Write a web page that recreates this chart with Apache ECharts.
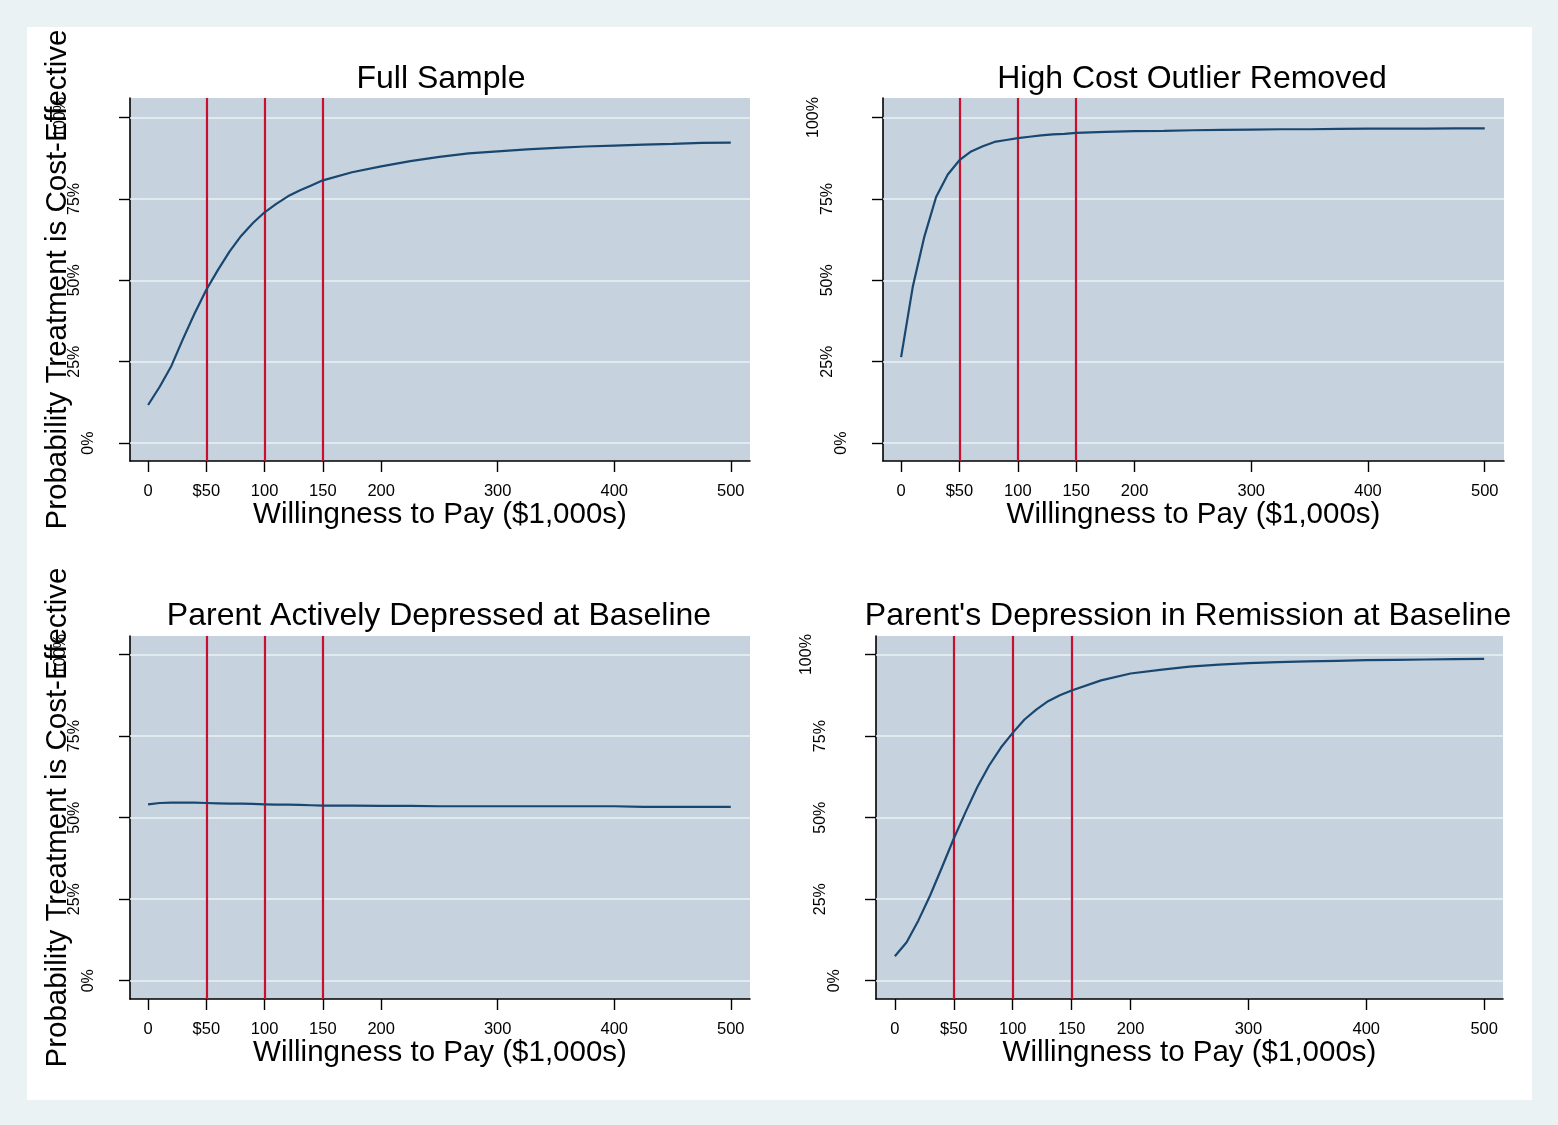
<!DOCTYPE html>
<html>
<head>
<meta charset="utf-8">
<title>Cost-effectiveness acceptability curves</title>
<script src="https://cdn.jsdelivr.net/npm/echarts@6/dist/echarts.min.js"></script>
<style>
  html, body { margin: 0; padding: 0; background: #eaf2f3; }
  #chart { width: 1558px; height: 1125px; }
</style>
</head>
<body>
<div id="chart"></div>
<script>
// willingness to pay ($1,000s)
let wtp = [0, 10, 20, 30, 40, 50, 60, 70, 80, 90, 100, 110, 120, 130, 140, 150, 175, 200, 225, 250, 275, 300, 325, 350, 375, 400, 425, 450, 475, 500];

// probability treatment is cost-effective (%)
let fullSample = [11.7, 17.3, 23.7, 32.0, 39.9, 47.1, 53.2, 58.9, 63.7, 67.6, 70.9, 73.5, 75.8, 77.6, 79.1, 80.7, 83.2, 85.0, 86.6, 87.9, 89.0, 89.6, 90.2, 90.7, 91.1, 91.4, 91.7, 91.9, 92.2, 92.3];
let outlierRemoved = [26.4, 48.0, 63.5, 75.6, 82.5, 86.9, 89.6, 91.2, 92.5, 93.1, 93.7, 94.1, 94.5, 94.8, 95.0, 95.3, 95.6, 95.8, 95.9, 96.1, 96.2, 96.3, 96.4, 96.4, 96.5, 96.6, 96.6, 96.6, 96.7, 96.7];
let activelyDepressed = [54.1, 54.5, 54.6, 54.6, 54.6, 54.5, 54.4, 54.3, 54.3, 54.2, 54.1, 54.0, 54.0, 53.9, 53.8, 53.7, 53.7, 53.6, 53.6, 53.5, 53.5, 53.5, 53.5, 53.5, 53.5, 53.5, 53.3, 53.3, 53.3, 53.3];
let inRemission = [7.5, 11.8, 18.5, 26.2, 34.8, 43.6, 51.7, 59.4, 66.0, 71.5, 76.0, 80.1, 83.1, 85.7, 87.5, 89.0, 92.1, 94.2, 95.3, 96.3, 96.9, 97.4, 97.7, 97.9, 98.1, 98.3, 98.4, 98.5, 98.6, 98.7];

let panelTitles = ["Full Sample", "High Cost Outlier Removed", "Parent Actively Depressed at Baseline", "Parent's Depression in Remission at Baseline"];
let xTickValues = [0, 50, 100, 150, 200, 300, 400, 500];
let xTickLabels = ["0", "$50", "100", "150", "200", "300", "400", "500"];
let yTickValues = [0, 25, 50, 75, 100];
let yTickLabels = ["0%", "25%", "50%", "75%", "100%"];
let thresholds = [50, 100, 150];

let xTitle = "Willingness to Pay ($1,000s)";
let yTitle = "Probability Treatment is Cost-Effective";

let font = "'Liberation Sans', Arial, Helvetica, sans-serif";
let curves = [fullSample, outlierRemoved, activelyDepressed, inRemission];

let grids = [
  { left: 130, top: 98, width: 620, height: 363 },
  { left: 883, top: 98, width: 621, height: 363 },
  { left: 130, top: 636, width: 620, height: 363 },
  { left: 876, top: 636, width: 627, height: 363 }
];
let xRanges = [[-15.5, 516.5], [-15.5, 516.5], [-15.5, 516.5], [-16, 516]];
let yRanges = [[-5.5, 106], [-5.5, 106], [-5.6, 105.7], [-5.6, 105.7]];
let titlePos = [[441, 79], [1192, 79], [439, 616], [1188, 616]];

// stata pushes the longer rotated labels further out
let yRich = {};
let yPads = [0, 14, 14, 14, 28];
for (let i = 0; i < yPads.length; i++) {
  yRich["p" + i] = { fontSize: 16, fontFamily: font, color: "#000", padding: [0, 0, yPads[i], 0] };
}

let option = {
  animation: false,
  backgroundColor: "#eaf2f3",
  textStyle: { fontFamily: font },
  grid: [],
  xAxis: [],
  yAxis: [],
  series: [],
  graphic: [
    { type: "rect", shape: { x: 27, y: 27, width: 1505, height: 1073 }, style: { fill: "#ffffff" }, z: -10, silent: true }
  ]
};

for (let i = 0; i < 4; i++) {
  let g = grids[i];
  option.grid.push({
    left: g.left, top: g.top, width: g.width, height: g.height,
    show: true, backgroundColor: "#c6d3df", borderWidth: 0
  });

  option.xAxis.push({
    type: "value", gridIndex: i,
    min: xRanges[i][0], max: xRanges[i][1],
    name: xTitle, nameLocation: "middle", nameGap: 39, nameMoveOverlap: false,
    nameTextStyle: { fontSize: 29.5, color: "#000", fontFamily: font },
    axisLine: { onZero: false, lineStyle: { color: "#000", width: 1.6 } },
    axisTick: { customValues: xTickValues, length: 11, lineStyle: { color: "#000", width: 1.4 } },
    axisLabel: {
      customValues: xTickValues, margin: 22, fontSize: 16.5, color: "#000", fontFamily: font,
      formatter: function (v) { return xTickLabels[xTickValues.indexOf(v)]; }
    },
    splitLine: { show: false }
  });

  let yAxis = {
    type: "value", gridIndex: i,
    min: yRanges[i][0], max: yRanges[i][1],
    axisLine: { onZero: false, lineStyle: { color: "#000", width: 1.6 } },
    axisTick: { customValues: yTickValues, length: 11, lineStyle: { color: "#000", width: 1.4 } },
    axisLabel: {
      customValues: yTickValues, rotate: 90, margin: 33,
      formatter: function (v) {
        let k = yTickValues.indexOf(v);
        return "{p" + k + "|" + yTickLabels[k] + "}";
      },
      rich: yRich
    },
    splitLine: { show: false }
  };
  if (i == 0 || i == 2) {
    // the title sits over the tick labels in the original
    yAxis.name = yTitle;
    yAxis.nameLocation = "middle";
    yAxis.nameRotate = 90;
    yAxis.nameGap = 57;
    yAxis.nameMoveOverlap = false;
    yAxis.nameTextStyle = { fontSize: 29.5, color: "#000", fontFamily: font };
  }
  option.yAxis.push(yAxis);

  // horizontal grid lines
  option.series.push({
    type: "line", xAxisIndex: i, yAxisIndex: i, data: [], z: 1, silent: true,
    markLine: {
      silent: true, symbol: "none", label: { show: false },
      lineStyle: { color: "#eaf2f3", width: 1.6, type: "solid" },
      emphasis: { disabled: true },
      data: yTickValues.map(function (v) { return { yAxis: v }; })
    }
  });

  // $50k / $100k / $150k thresholds
  option.series.push({
    type: "line", xAxisIndex: i, yAxisIndex: i, data: [], z: 2, silent: true,
    markLine: {
      silent: true, symbol: "none", label: { show: false },
      lineStyle: { color: "#c8102e", width: 2.2, type: "solid" },
      emphasis: { disabled: true },
      data: thresholds.map(function (v) { return { xAxis: v }; })
    }
  });

  let pts = [];
  for (let j = 0; j < wtp.length; j++) {
    pts.push([wtp[j], curves[i][j]]);
  }
  option.series.push({
    type: "line", xAxisIndex: i, yAxisIndex: i, data: pts, z: 5,
    showSymbol: false, silent: true,
    lineStyle: { color: "#1a476f", width: 2.2 }
  });

  option.graphic.push({
    type: "text", x: titlePos[i][0], y: titlePos[i][1], silent: true,
    style: { text: panelTitles[i], fontSize: 32, fontFamily: font, fill: "#000", align: "center", verticalAlign: "middle" }
  });
}

let myChart = echarts.init(document.getElementById("chart"));
myChart.setOption(option);
</script>
</body>
</html>
